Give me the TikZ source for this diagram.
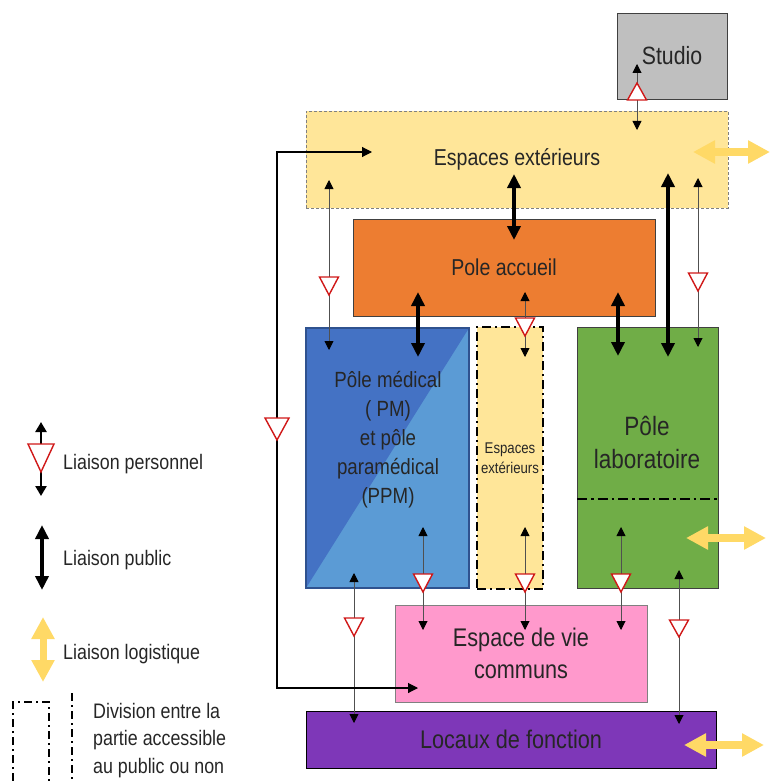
\documentclass[tikz,border=0pt]{standalone}
\usepackage{fontspec}
\setmainfont{Liberation Sans}[FakeStretch=0.85]
\usetikzlibrary{arrows.meta}
\definecolor{txt}{HTML}{262626}
\definecolor{boxline}{HTML}{404040}
\definecolor{studiogray}{HTML}{BFBFBF}
\definecolor{extyellow}{HTML}{FFE699}
\definecolor{accorange}{HTML}{ED7D31}
\definecolor{pmdark}{HTML}{4472C4}
\definecolor{pmlight}{HTML}{5B9BD5}
\definecolor{pmline}{HTML}{2F528F}
\definecolor{labgreen}{HTML}{70AD47}
\definecolor{viepink}{HTML}{FF99CC}
\definecolor{locpurple}{HTML}{7E37B8}
\definecolor{logyellow}{HTML}{FFD966}
\definecolor{trired}{HTML}{D01818}
\definecolor{linegray}{HTML}{505050}
\newcommand{\dtri}[4]{\draw[tri] (#1-#3/2,#2) -- (#1+#3/2,#2) -- (#1,#2+#4) -- cycle;}
\newcommand{\utri}[4]{\draw[tri] (#1,#2) -- (#1+#3/2,#2+#4) -- (#1-#3/2,#2+#4) -- cycle;}
\newcommand{\fsz}[2]{\fontsize{#1}{#2}\selectfont}
\begin{document}
\begin{tikzpicture}[x=1pt,y=-1pt,
  box/.style={draw=boxline, line width=0.8pt, inner sep=0pt, text=txt, align=center},
  lab/.style={text=txt, inner sep=0pt, align=center},
  pers/.style={draw=linegray, line width=0.9pt,
    {Triangle[length=9pt,width=9pt,color=black]}-{Triangle[length=9pt,width=9pt,color=black]}},
  pub/.style={draw=black, line width=4pt,
    {Triangle[length=14pt,width=13pt]}-{Triangle[length=14pt,width=13pt]}},
  logi/.style={draw=logyellow, line width=8pt,
    {Triangle[length=22pt,width=22pt]}-{Triangle[length=22pt,width=22pt]}},
  tri/.style={draw=trired, fill=white, line width=1.4pt, line join=miter},
  divline/.style={draw=black, line width=2.2pt, dash pattern=on 8pt off 4pt on 2pt off 4pt},
]
\useasboundingbox (0,0) rectangle (770,781);

% ---------- boxes ----------
\node[box, draw=boxline, fill=studiogray, minimum width=110, minimum height=86, font=\fsz{25}{30}] (studio) at (672,56)
  {Studio};
\node[box, draw=gray, dash pattern=on 3pt off 2pt, fill=extyellow, minimum width=422, minimum height=97, font=\fsz{23}{28}] (ext) at (517,159.5)
  {Espaces extérieurs};
\node[box, fill=accorange, minimum width=302, minimum height=97, font=\fsz{23}{28}] (acc) at (504,267.5)
  {Pole accueil};
\node[box, draw=pmline, line width=1.5pt, fill=pmlight, minimum width=163, minimum height=260,
  path picture={\fill[pmdark] (path picture bounding box.north west) -- (path picture bounding box.north east)
    -- (path picture bounding box.south west) -- cycle;}] (pm) at (387.5,458) {};
\node[lab, font=\fsz{22}{29}] (pmtext) at (388,440)
  {Pôle médical\\( PM)\\et pôle\\paramédical\\(PPM)};
\node[box, draw=black, line width=2.5pt, dash pattern=on 9pt off 4pt on 2pt off 4pt, fill=extyellow,
  minimum width=66, minimum height=262, font=\fsz{15.5}{20}] (extm) at (510,458)
  {Espaces\\extérieurs};
\node[box, fill=labgreen, minimum width=141, minimum height=261] (labo) at (647.5,457.5) {};
\node[lab, font=\fsz{26.5}{33}] (labotext) at (647,442) {Pôle\\laboratoire};
\coordinate (divL) at (577,499);
\coordinate (divR) at (718,499);
\draw[draw=black, line width=2pt, dash pattern=on 10pt off 4pt on 2.5pt off 4pt] (divL) -- (divR);
\node[box, draw=gray, fill=viepink, minimum width=252, minimum height=97, font=\fsz{25.5}{32}] (vie) at (521,653.5)
  {Espace de vie\\communs};
\node[box, draw=black, fill=locpurple, minimum width=410, minimum height=57, font=\fsz{25.5}{30}] (loc) at (511,739.5)
  {Locaux de fonction};

% ---------- connector end points ----------
\coordinate (a1) at (637,64);  \coordinate (a2) at (637,130);
\coordinate (b1) at (514,174); \coordinate (b2) at (514,240);
\coordinate (c1) at (329,180); \coordinate (c2) at (329,350);
\coordinate (d1) at (418,292); \coordinate (d2) at (418,357);
\coordinate (e1) at (525,292); \coordinate (e2) at (525,357);
\coordinate (f1) at (618,292); \coordinate (f2) at (618,356);
\coordinate (g1) at (668,173); \coordinate (g2) at (668,357);
\coordinate (h1) at (698,178); \coordinate (h2) at (698,347);
\coordinate (l1) at (372,152); \coordinate (lx) at (277,420); \coordinate (l2) at (418,688);
\coordinate (m1) at (354,573); \coordinate (m2) at (354,723);
\coordinate (n1) at (423,527); \coordinate (n2) at (423,630);
\coordinate (o1) at (525,527); \coordinate (o2) at (525,630);
\coordinate (p1) at (621,527); \coordinate (p2) at (621,630);
\coordinate (q1) at (679,570); \coordinate (q2) at (679,724);
\coordinate (r1) at (693,152); \coordinate (r2) at (770,152);
\coordinate (s1) at (686,538); \coordinate (s2) at (766,538);
\coordinate (t1) at (684,745); \coordinate (t2) at (764,745);

% ---------- personnel links ----------
\draw[pers] (a1) -- (a2);
\draw[pers] (c1) -- (c2);
\draw[pers] (e1) -- (e2);
\draw[pers] (h1) -- (h2);
\draw[pers] (m1) -- (m2);
\draw[pers] (n1) -- (n2);
\draw[pers] (o1) -- (o2);
\draw[pers] (p1) -- (p2);
\draw[pers] (q1) -- (q2);
\draw[draw=black, line width=1.1pt, {Triangle[length=10pt,width=10pt]}-{Triangle[length=10pt,width=10pt]}]
  (l1) -- (l1 -| lx) -- (l2 -| lx) -- (l2);
\utri{637}{83}{19}{17}
\dtri{329}{277}{19}{18}
\dtri{525}{318}{19}{18}
\dtri{698}{273}{19}{18}
\dtri{277}{418}{24}{22}
\dtri{354}{618}{19}{18}
\dtri{423}{574}{19}{18}
\dtri{525}{574}{19}{18}
\dtri{621}{574}{19}{18}
\dtri{679}{620}{19}{17}

% ---------- public links ----------
\draw[pub] (b1) -- (b2);
\draw[pub] (d1) -- (d2);
\draw[pub] (f1) -- (f2);
\draw[pub] (g1) -- (g2);

% ---------- logistic links ----------
\draw[logi] (r1) -- (r2);
\draw[logi] (s1) -- (s2);
\draw[logi] (t1) -- (t2);

% ---------- legend ----------
\coordinate (k1) at (41,422); \coordinate (k2) at (41,496);
\draw[draw=black, line width=2.5pt, {Triangle[length=10pt,width=11pt]}-{Triangle[length=10pt,width=11pt]}] (k1) -- (k2);
\dtri{41}{444}{26}{28}
\node[lab, anchor=base west, font=\fsz{21}{25}] (lgpers) at (63,469) {Liaison personnel};
\coordinate (k3) at (42,525); \coordinate (k4) at (42,590);
\draw[pub] (k3) -- (k4);
\node[lab, anchor=base west, font=\fsz{21}{25}] (lgpub) at (63,565) {Liaison public};
\coordinate (k5) at (43,617); \coordinate (k6) at (43,682);
\draw[logi, line width=7pt] (k5) -- (k6);
\node[lab, anchor=base west, font=\fsz{21}{25}] (lglog) at (63,659) {Liaison logistique};
\coordinate (k7) at (13,781); \coordinate (k8) at (13,702); \coordinate (k9) at (49,702); \coordinate (k10) at (49,781);
\draw[divline] (k7) -- (k8) -- (k9) -- (k10);
\coordinate (k11) at (72,693); \coordinate (k12) at (72,781);
\draw[divline] (k11) -- (k12);
\node[lab, anchor=north west, align=left, font=\fsz{21}{27.5}] (lgdiv) at (93,703)
  {Division entre la\\partie accessible\\au public ou non};
\end{tikzpicture}
\end{document}
